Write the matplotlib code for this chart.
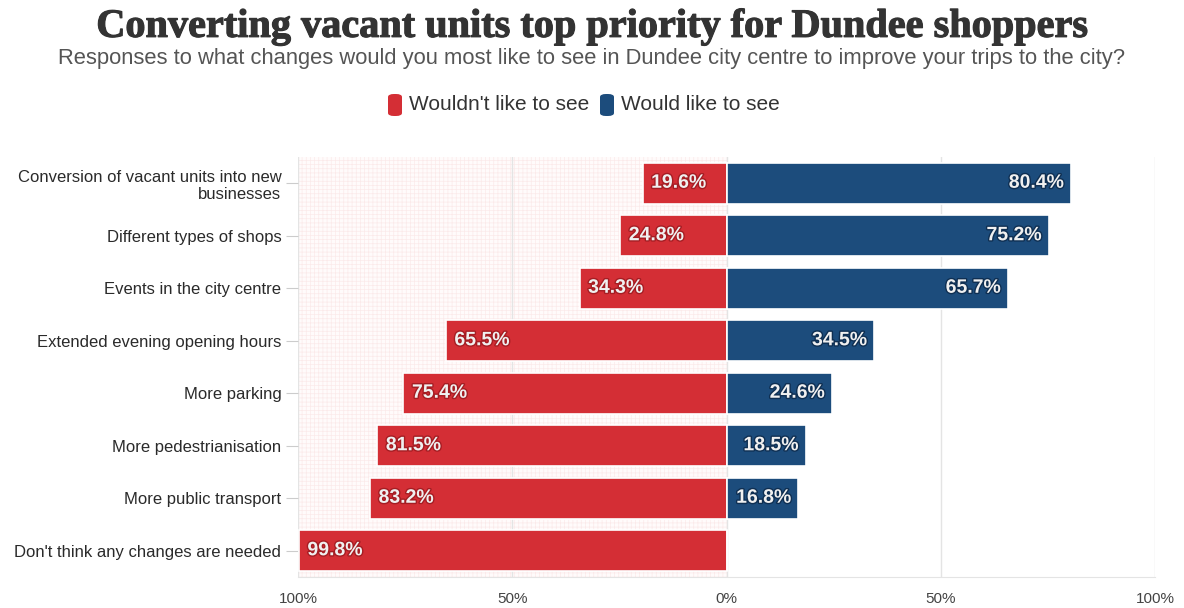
import matplotlib
matplotlib.use("Agg")
import matplotlib.pyplot as plt
import matplotlib.patheffects as pe
from matplotlib.patches import FancyBboxPatch, Rectangle

categories = [
    "Conversion of vacant units into new\nbusinesses",
    "Different types of shops",
    "Events in the city centre",
    "Extended evening opening hours",
    "More parking",
    "More pedestrianisation",
    "More public transport",
    "Don't think any changes are needed",
]
wouldnt_like = [19.6, 24.8, 34.3, 65.5, 75.4, 81.5, 83.2, 99.8]
would_like = [80.4, 75.2, 65.7, 34.5, 24.6, 18.5, 16.8, 0.2]
tick_values = [-100, -50, 0, 50, 100]
tick_labels = ["100%", "50%", "0%", "50%", "100%"]

RED = "#d42e35"
BLUE = "#1c4c7c"

plt.rcParams["hatch.linewidth"] = 0.5
fig = plt.figure(figsize=(11.84, 6.08), dpi=100)
fig.patch.set_facecolor("white")
ax = fig.add_axes([298 / 1184, 31 / 608, 857 / 1184, 420 / 608])

# faint dotted backdrop on the negative half
bg = Rectangle((-100, -0.5), 100, 8, facecolor="#fffbfb", edgecolor="#fbeaea",
               hatch="++++", linewidth=0, zorder=0)
ax.add_patch(bg)

for xv in tick_values:
    ax.axvline(xv, color="#e4e4e4", linewidth=1, zorder=1)

ypos = list(range(len(categories)))
ax.barh(ypos, [-v for v in wouldnt_like], height=0.78, color=RED,
        edgecolor="white", linewidth=1.2, zorder=2)
ax.barh(ypos, would_like, height=0.78, color=BLUE,
        edgecolor="white", linewidth=1.2, zorder=2)

label_kw = dict(fontsize=14, fontweight="bold", color="#f0f0f0", va="center",
                family="Liberation Sans", zorder=3)
for y, v in zip(ypos, wouldnt_like):
    ax.text(-v + 2.0, y, f"{v:.1f}%", ha="left",
            path_effects=[pe.withStroke(linewidth=2, foreground="#a51d23")],
            **label_kw)
for y, v in zip(ypos, would_like):
    if v >= 5:
        ax.text(v - 1.6, y, f"{v:.1f}%", ha="right",
                path_effects=[pe.withStroke(linewidth=2, foreground="#0f2f52")],
                **label_kw)

ax.set_xlim(-100, 100)
ax.set_ylim(len(categories) - 0.5, -0.5)
ax.set_xticks(tick_values)
ax.set_xticklabels(tick_labels, fontsize=11, color="#444444",
                   family="Liberation Sans")
ax.set_yticks(ypos)
ax.set_yticklabels(categories, fontsize=12, color="#2a2a2a",
                   family="Liberation Sans", linespacing=1.2)
ax.tick_params(axis="y", length=9, color="#cccccc", pad=3)
ax.tick_params(axis="x", length=0, pad=11)
for s in ["top", "left", "right"]:
    ax.spines[s].set_visible(False)
ax.spines["bottom"].set_color("#e4e4e4")

title = fig.text(0.5, 0.955, "Converting vacant units top priority for Dundee shoppers",
                 ha="center", va="center", fontsize=29, fontweight="bold",
                 family="Liberation Serif", color="#333333")
title.set_path_effects([pe.withStroke(linewidth=0.8, foreground="#333333")])
fig.text(0.5, 0.903,
         "Responses to what changes would you most like to see in Dundee city centre to improve your trips to the city?",
         ha="center", va="center", fontsize=15.8, family="Liberation Sans",
         color="#555555")

# legend
leg_y = 1 - 105 / 608
items = [(388, RED, "Wouldn't like to see"), (600, BLUE, "Would like to see")]
for x0, col, txt in items:
    fig.patches.append(FancyBboxPatch((x0 / 1184, leg_y - 11 / 608), 14 / 1184, 22 / 608,
                                      boxstyle="round,pad=0,rounding_size=0.005",
                                      transform=fig.transFigure, facecolor=col,
                                      edgecolor="none"))
    fig.text((x0 + 21) / 1184, leg_y, txt, ha="left", va="center", fontsize=15,
             family="Liberation Sans", color="#333333")

fig.savefig("out.png", dpi=100)
